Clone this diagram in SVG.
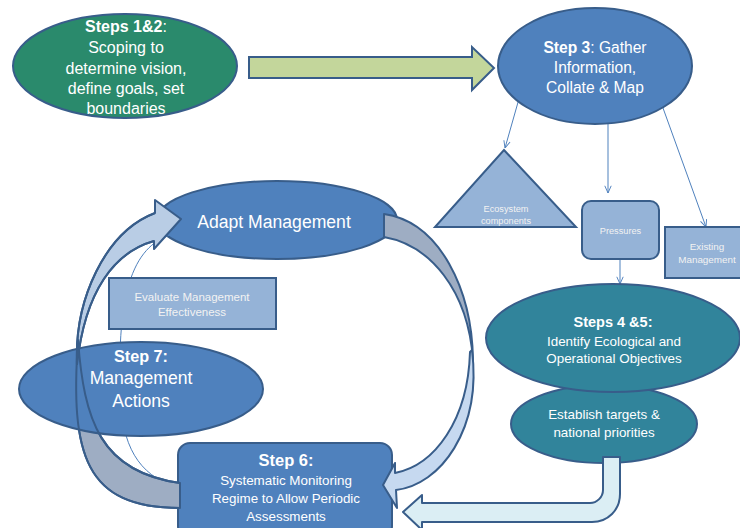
<svg xmlns="http://www.w3.org/2000/svg" width="740" height="528" viewBox="0 0 740 528">
<defs>
<style>
.t{font-family:"Liberation Sans",Arial,sans-serif;fill:#ffffff;text-anchor:middle}
.b{font-weight:bold}
.lt{fill:#f2f2f2}
.dk{fill:#4f81bd;stroke:#385d8a;stroke-width:2}
.lb{fill:#95b3d7;stroke:#385d8a;stroke-width:2}
.tl{fill:#31849b;stroke:#385d8a;stroke-width:2}
.thin{fill:none;stroke:#4f81bd;stroke-width:1}
.band{stroke:#385d8a;stroke-width:2;stroke-linejoin:round}
.ol{fill:none;stroke:#385d8a;stroke-width:2;stroke-linejoin:round}
</style>
<marker id="ah" viewBox="0 0 10 10" refX="10" refY="5" markerWidth="8" markerHeight="8" markerUnits="userSpaceOnUse" orient="auto">
<path d="M1,1 L10,5 L1,9" fill="none" stroke="#4f81bd" stroke-width="1.2"/>
</marker>
</defs>
<rect width="740" height="528" fill="#ffffff"/>

<g id="adapt">
<ellipse class="dk" cx="277" cy="220" rx="120" ry="39"/>
<text class="t" x="274" y="228" font-size="17.6">Adapt Management</text>
</g>
<g id="step6">
<rect class="dk" x="178" y="443" width="214" height="95" rx="12"/>
<text class="t b" x="286" y="466" font-size="16.5">Step 6:</text>
<text class="t" x="286" y="485" font-size="13.4">Systematic Monitoring</text>
<text class="t" x="286" y="503" font-size="13.4">Regime to Allow Periodic</text>
<text class="t" x="286" y="521" font-size="13.4">Assessments</text>
</g>
<g id="establish">
<ellipse class="tl" cx="604" cy="424" rx="93" ry="39"/>
<text class="t" x="604" y="419" font-size="13.4">Establish targets &amp;</text>
<text class="t" x="604" y="437" font-size="13.4">national priorities</text>
</g>

<g id="connectors">
<path class="thin" d="M183 232 C140 238,118 275,120 380 C119 440,135 470,168 484"/>
<line class="thin" x1="532" y1="53" x2="505" y2="148" marker-end="url(#ah)"/>
<line class="thin" x1="608" y1="110" x2="608" y2="193" marker-end="url(#ah)"/>
<line class="thin" x1="663" y1="108" x2="706" y2="227" marker-end="url(#ah)"/>
<line class="thin" x1="620" y1="259" x2="620" y2="284" marker-end="url(#ah)"/>
<polygon points="249,57 472,57 472,47 494,68 472,90 472,78 249,78" fill="#c3d69b" stroke="#385d8a" stroke-width="2" stroke-linejoin="miter"/>
<path class="band" fill="#9eadc3" d="M180 508 C85 508,70 455,78 340 C84 420,100 472,180 483 Z"/>
<path class="band" fill="#b9cde5" d="M77 365 C74 300,105 232,155 213 L155 200 L181 219 L154 249 L154 241 C115 252,85 290,77 365 Z"/>
<path class="band" fill="#9eadc3" d="M384 214 C440 222,472 290,473 360 C468 290,430 245,384 237 Z"/>
<path class="band" fill="#c6d9f0" d="M472 350 C482 430,440 485,396 490 L397 508 L383 485 L395 463 L395 473 C435 465,468 420,470 352 Z"/>
<path class="band" fill="#dbeef4" d="M603 457 L620 457 L620 494 C620 510,608 522,592 522 L422 522 L422 530 L403 512 L422 495 L422 503 L590 503 C597 503,603 497,603 490 Z"/>
</g>

<g id="steps12">
<ellipse cx="125" cy="66" rx="112" ry="52" fill="#2a8a6c" stroke="#385d8a" stroke-width="2"/>
<text class="t" x="126" y="32" font-size="16"><tspan class="b">Steps 1&amp;2</tspan>:</text>
<text class="t" x="126" y="53" font-size="16">Scoping to</text>
<text class="t" x="126" y="74" font-size="16">determine vision,</text>
<text class="t" x="126" y="94" font-size="16">define goals, set</text>
<text class="t" x="126" y="114" font-size="16">boundaries</text>
</g>
<g id="step3">
<ellipse class="dk" cx="595" cy="66" rx="97" ry="58"/>
<text class="t" x="595" y="53" font-size="15.6"><tspan class="b">Step 3</tspan>: Gather</text>
<text class="t" x="595" y="73" font-size="15.6">Information,</text>
<text class="t" x="595" y="93" font-size="15.6">Collate &amp; Map</text>
</g>
<g id="ecosystem">
<polygon class="lb" points="504,150 576,227 435,227" stroke-linejoin="miter"/>
<text class="t lt" x="506" y="211.5" font-size="9.2">Ecosystem</text>
<text class="t lt" x="506" y="224" font-size="9.2">components</text>
</g>
<g id="pressures">
<rect class="lb" x="582" y="201" width="77" height="58" rx="9"/>
<text class="t lt" x="620.5" y="234" font-size="9.2">Pressures</text>
</g>
<g id="existing">
<rect class="lb" x="665" y="227" width="80" height="51"/>
<text class="t lt" x="707" y="250" font-size="9.9">Existing</text>
<text class="t lt" x="707" y="263" font-size="9.9">Management</text>
</g>
<g id="steps45">
<ellipse class="tl" cx="613" cy="338" rx="127" ry="54"/>
<text class="t b" x="613" y="327" font-size="14.5">Steps 4 &amp;5:</text>
<text class="t" x="614" y="346" font-size="13.4">Identify Ecological  and</text>
<text class="t" x="614" y="363" font-size="13.4">Operational Objectives</text>
</g>
<g id="evaluate">
<rect class="lb" x="109" y="278" width="167" height="51"/>
<text class="t lt" x="192" y="301" font-size="11.5">Evaluate Management</text>
<text class="t lt" x="192" y="316" font-size="11.5">Effectiveness</text>
</g>
<g id="step7">
<ellipse class="dk" cx="141" cy="389" rx="122" ry="47"/>
<path class="ol" d="M180 508 C85 508,70 455,78 340 C84 420,100 472,180 483"/>
<path class="ol" d="M77 365 C74 300,105 232,155 213 M154 241 C115 252,85 290,77 365"/>
<text class="t b" x="141" y="362" font-size="16.2">Step 7:</text>
<text class="t" x="141" y="384" font-size="17.6">Management</text>
<text class="t" x="141" y="407" font-size="17.6">Actions</text>
</g>
</svg>
